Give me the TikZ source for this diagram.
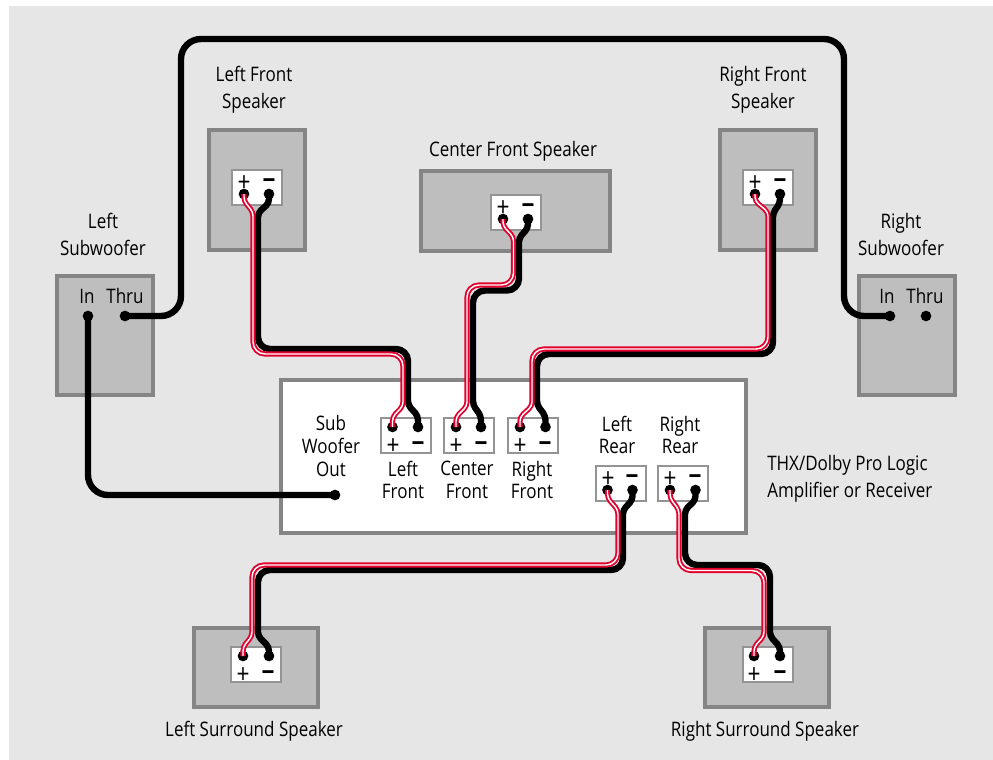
\documentclass[tikz,border=0pt]{standalone}
\usepackage{fontspec}
\setmainfont[FakeStretch=0.85]{Open Sans}
\definecolor{panel}{HTML}{E6E6E6}
\definecolor{boxfill}{HTML}{BEBEBE}
\definecolor{boxline}{HTML}{858585}
\definecolor{plateline}{HTML}{949494}
\definecolor{wirered}{HTML}{E2002D}

\begin{document}
\begin{tikzpicture}[x=0.75pt,y=-0.75pt,
  speaker/.style={rectangle,fill=boxfill,draw=boxline,line width=3pt,inner sep=0pt},
  amp box/.style={rectangle,fill=white,draw=boxline,line width=3pt,inner sep=0pt},
  plate/.style={rectangle,fill=white,draw=plateline,line width=1.5pt,inner sep=0pt,minimum width=37.5pt,minimum height=26.25pt},
  term/.style={circle,fill=black,inner sep=0pt,minimum size=8pt},
  sign/.style={inner sep=0pt,yshift=-2pt,font=\fontsize{20}{20}\selectfont},
  minus sign/.style={inner sep=0pt,yshift=-2pt,font=\fontsize{20}{20}\selectfont\bfseries},
  big label/.style={inner sep=0pt,align=center,font=\fontsize{15}{20.25}\selectfont},
  small label/.style={inner sep=0pt,align=center,font=\fontsize{15}{17}\selectfont},
  black wire/.style={draw=black,line width=4.8pt},
  red wire/.style={draw=wirered,line width=1.4pt,double=white,double distance=1.1pt},
  sub wire/.style={draw=black,line width=4.8pt,rounded corners=15pt}]
  \useasboundingbox (0,0) rectangle (993,760);
  \fill[panel] (9,6) rectangle (993,760);

  % speakers and amplifier
  \node[speaker,minimum width=72pt,minimum height=90pt] (lfbox) at (257,190) {};
  \node[speaker,minimum width=72pt,minimum height=90pt] (rfbox) at (768,190) {};
  \node[speaker,minimum width=141.75pt,minimum height=60pt] (cfbox) at (515.5,211) {};
  \node[speaker,minimum width=72pt,minimum height=89.25pt] (lsubbox) at (105,335.5) {};
  \node[speaker,minimum width=72pt,minimum height=89.25pt] (rsubbox) at (907,335.5) {};
  \node[speaker,minimum width=93pt,minimum height=59.25pt] (lsbox) at (256,667.5) {};
  \node[speaker,minimum width=93pt,minimum height=59.25pt] (rsbox) at (766.5,667.5) {};
  \node[amp box,minimum width=348.75pt,minimum height=114.75pt] (amp) at (513.5,456.5) {};

  % terminal plates
  \node[plate] (lfplate) at (257,187.5) {};
  \node[plate] (rfplate) at (768,187.5) {};
  \node[plate] (cfplate) at (516,212) {};
  \node[plate] (lsplate) at (256,664) {};
  \node[plate] (rsplate) at (767.5,664) {};
  \node[plate] (alfplate) at (405.5,435) {};
  \node[plate] (acfplate) at (469,435) {};
  \node[plate] (arfplate) at (533,435) {};
  \node[plate] (alrplate) at (620.5,483) {};
  \node[plate] (arrplate) at (683,483) {};

  % signs
  \node[sign] (lfplus) at (244,181) {+};
  \node[minus sign] (lfminus) at (269,181) {−};
  \node[sign] (rfplus) at (755,181) {+};
  \node[minus sign] (rfminus) at (780,181) {−};
  \node[sign] (cfplus) at (503,206) {+};
  \node[minus sign] (cfminus) at (528,206) {−};
  \node[sign] (lsplus) at (243,673) {+};
  \node[minus sign] (lsminus) at (268,673) {−};
  \node[sign] (rsplus) at (754,673) {+};
  \node[minus sign] (rsminus) at (780,673) {−};
  \node[sign] (alfplus) at (393,444) {+};
  \node[minus sign] (alfminus) at (418,444) {−};
  \node[sign] (acfplus) at (456,444) {+};
  \node[minus sign] (acfminus) at (481,444) {−};
  \node[sign] (arfplus) at (520,444) {+};
  \node[minus sign] (arfminus) at (545,444) {−};
  \node[sign] (alrplus) at (608,477) {+};
  \node[minus sign] (alrminus) at (632,477) {−};
  \node[sign] (arrplus) at (670,477) {+};
  \node[minus sign] (arrminus) at (695,477) {−};

  % terminals
  \node[term] (lfp) at (244,194) {};
  \node[term] (lfm) at (269,194) {};
  \node[term] (rfp) at (755,194) {};
  \node[term] (rfm) at (780,194) {};
  \node[term] (cfp) at (503,219) {};
  \node[term] (cfm) at (528,219) {};
  \node[term] (lsp) at (243,656) {};
  \node[term] (lsm) at (269,656) {};
  \node[term] (rsp) at (754,656) {};
  \node[term] (rsm) at (780,656) {};
  \node[term] (alfp) at (392.5,427) {};
  \node[term] (alfm) at (418,427) {};
  \node[term] (acfp) at (456,427) {};
  \node[term] (acfm) at (481,427) {};
  \node[term] (arfp) at (520,427) {};
  \node[term] (arfm) at (545.5,427) {};
  \node[term] (alrp) at (607.5,490) {};
  \node[term] (alrm) at (632.5,490) {};
  \node[term] (arrp) at (670,490) {};
  \node[term] (arrm) at (695.5,490) {};
  \node[term] (lin) at (88,316) {};
  \node[term] (lthru) at (125,316) {};
  \node[term] (rin) at (890,316) {};
  \node[term] (rthru) at (926,316) {};
  \node[term] (subout) at (335,495) {};

  % subwoofer wires
  \draw[sub wire] (lthru.center) -- (181,316) -- (181,39) -- (844,39) -- (844,316) -- (rin.center);
  \draw[sub wire] (lin.center) -- (88,495) -- (subout.center);

  % speaker wires
  \draw[black wire,rounded corners=3pt] (lfm.center) -- (269,203) -- (258,213) -- (258,240) [rounded corners=9pt] -- (258,349) -- (408,349) -- (408,390) [rounded corners=3pt] -- (408,405) -- (418,416) -- (alfm.center);
  \draw[red wire,rounded corners=3pt] (lfp.center) -- (244,201) -- (253,212) -- (253,240) [rounded corners=9pt] -- (253,354) -- (403,354) -- (403,390) [rounded corners=3pt] -- (403,406) -- (392.5,417) -- (alfp.center);

  \draw[black wire,rounded corners=3pt] (cfm.center) -- (528,228) -- (519,238) -- (519,260) [rounded corners=9pt] -- (519,290.5) -- (473,290.5) -- (473,390) [rounded corners=3pt] -- (473,405) -- (481,416) -- (acfm.center);
  \draw[red wire,rounded corners=3pt] (cfp.center) -- (503,226) -- (513.5,237) -- (513.5,260) [rounded corners=9pt] -- (513.5,285) -- (467,285) -- (467,390) [rounded corners=3pt] -- (467,406) -- (456,417) -- (acfp.center);

  \draw[black wire,rounded corners=3pt] (rfm.center) -- (780,203) -- (773,213) -- (773,240) [rounded corners=9pt] -- (773,354) -- (537,354) -- (537,390) [rounded corners=3pt] -- (537,405) -- (545.5,416) -- (arfm.center);
  \draw[red wire,rounded corners=3pt] (rfp.center) -- (755,201) -- (768,212) -- (768,240) [rounded corners=9pt] -- (768,349) -- (532,349) -- (532,390) [rounded corners=3pt] -- (532,406) -- (520,417) -- (arfp.center);

  \draw[black wire,rounded corners=3pt] (alrm.center) -- (632.5,500) -- (623,510) -- (623,530) [rounded corners=9pt] -- (623,570) -- (258,570) -- (258,620) [rounded corners=3pt] -- (258,636) -- (269,647) -- (lsm.center);
  \draw[red wire,rounded corners=3pt] (alrp.center) -- (607.5,498) -- (618,510) -- (618,530) [rounded corners=9pt] -- (618,565) -- (252,565) -- (252,620) [rounded corners=3pt] -- (252,636) -- (243,647) -- (lsp.center);

  \draw[black wire,rounded corners=3pt] (arrm.center) -- (695.5,500) -- (685,510) -- (685,530) [rounded corners=9pt] -- (685,565) -- (770,565) -- (770,620) [rounded corners=3pt] -- (770,636) -- (780,647) -- (rsm.center);
  \draw[red wire,rounded corners=3pt] (arrp.center) -- (670,498) -- (679,510) -- (679,530) [rounded corners=9pt] -- (679,570.5) -- (764,570.5) -- (764,620) [rounded corners=3pt] -- (764,636) -- (754,647) -- (rsp.center);

  % labels
  \node[big label] (lftext) at (254,89.5) {Left Front\\Speaker};
  \node[big label] (rftext) at (763,89.5) {Right Front\\Speaker};
  \node[big label] (cftext) at (513,151) {Center Front Speaker};
  \node[big label] (lsubtext) at (103,234) {Left\\Subwoofer};
  \node[big label] (rsubtext) at (901,234) {Right\\Subwoofer};
  \node[big label] (linlabel) at (87,296) {In};
  \node[big label] (lthrulabel) at (125,296) {Thru};
  \node[big label] (rinlabel) at (887,296) {In};
  \node[big label] (rthrulabel) at (925,296) {Thru};
  \node[small label] (subtext) at (331,446) {Sub\\Woofer\\Out};
  \node[small label] (alftext) at (403,480) {Left\\Front};
  \node[small label] (acftext) at (467,480) {Center\\Front};
  \node[small label] (arftext) at (532,480) {Right\\Front};
  \node[small label] (alrtext) at (617,435) {Left\\Rear};
  \node[small label] (arrtext) at (680,435) {Right\\Rear};
  \node[big label,anchor=west,align=left] (amptext) at (767,479) {THX/Dolby Pro Logic\\Amplifier or Receiver};
  \node[big label] (lstext) at (254,731) {Left Surround Speaker};
  \node[big label] (rstext) at (765,731) {Right Surround Speaker};
\end{tikzpicture}
\end{document}
